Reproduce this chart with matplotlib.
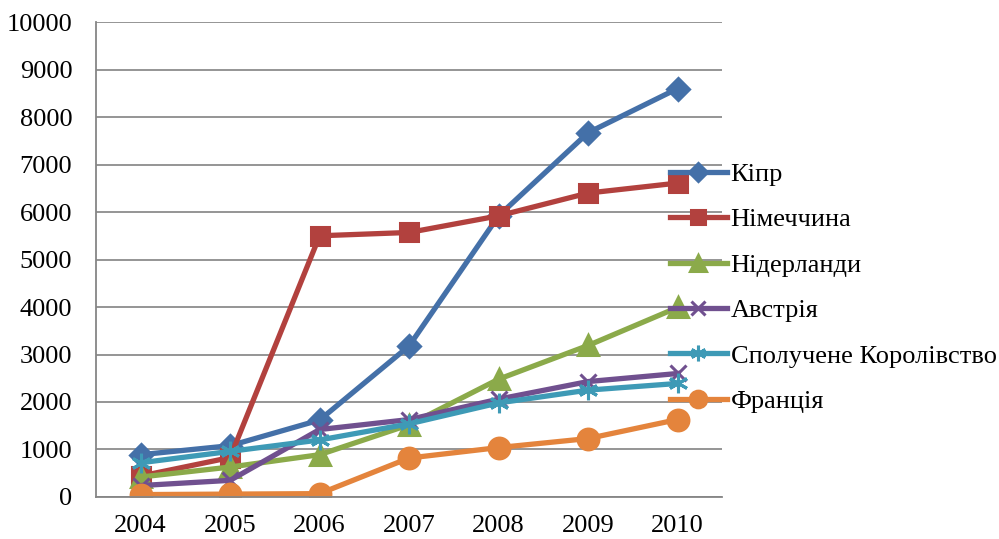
import numpy as np
import matplotlib.pyplot as plt

years = ['2004', '2005', '2006', '2007', '2008', '2009', '2010']
countries = ['Кіпр', 'Німеччина', 'Нідерланди', 'Австрія',
             'Сполучене Королівство', 'Франція']
cyprus = [890, 1080, 1620, 3180, 5920, 7670, 8600]
germany = [440, 830, 5500, 5570, 5920, 6400, 6610]
netherlands = [420, 630, 890, 1520, 2480, 3190, 3990]
austria = [240, 350, 1420, 1630, 2060, 2430, 2600]
uk = [720, 960, 1200, 1540, 1980, 2250, 2390]
france = [50, 60, 70, 820, 1040, 1230, 1630]

series = [cyprus, germany, netherlands, austria, uk, france]
colors = ['#4470A8', '#B2413E', '#8BAA4A', '#70508F', '#3E9AB6', '#E4843C']
markers = ['D', 's', '^', 'x', (6, 2, 0), 'o']
msizes = [11, 13, 14, 12, 14, 15]

plt.rcParams['font.family'] = ['Liberation Serif', 'DejaVu Serif']

fig = plt.figure(figsize=(9.99, 5.39), dpi=100)
ax = fig.add_axes([0.096, 0.078, 0.627, 0.881])

x = np.arange(len(years))
for vals, name, c, m, ms in zip(series, countries, colors, markers, msizes):
    ax.plot(x, vals, color=c, lw=3.8, marker=m, ms=ms, mew=2.2,
            mec=c, mfc=c, label=name, solid_joinstyle='round')

ax.set_xlim(-0.5, len(years) - 0.5)
ax.set_ylim(0, 10000)
ax.set_yticks(np.arange(0, 10001, 1000))
ax.set_xticks(x)
ax.set_xticklabels(years)
ax.tick_params(axis='x', length=0, labelsize=19, pad=13)
ax.tick_params(axis='y', length=0, labelsize=19, pad=17)
ax.grid(axis='y', color='#8c8c8c', lw=1.3)
ax.set_axisbelow(True)
for s in ['top', 'right']:
    ax.spines[s].set_visible(False)
for s in ['left', 'bottom']:
    ax.spines[s].set_color('#868686')
    ax.spines[s].set_linewidth(1.3)

leg = fig.legend(loc='upper left', bbox_to_anchor=(0.66, 0.718),
                 frameon=False, fontsize=19, handlelength=2.15,
                 handletextpad=0.15, labelspacing=0.83, borderaxespad=0,
                 markerscale=0.8)

fig.savefig('out.png', dpi=100)
